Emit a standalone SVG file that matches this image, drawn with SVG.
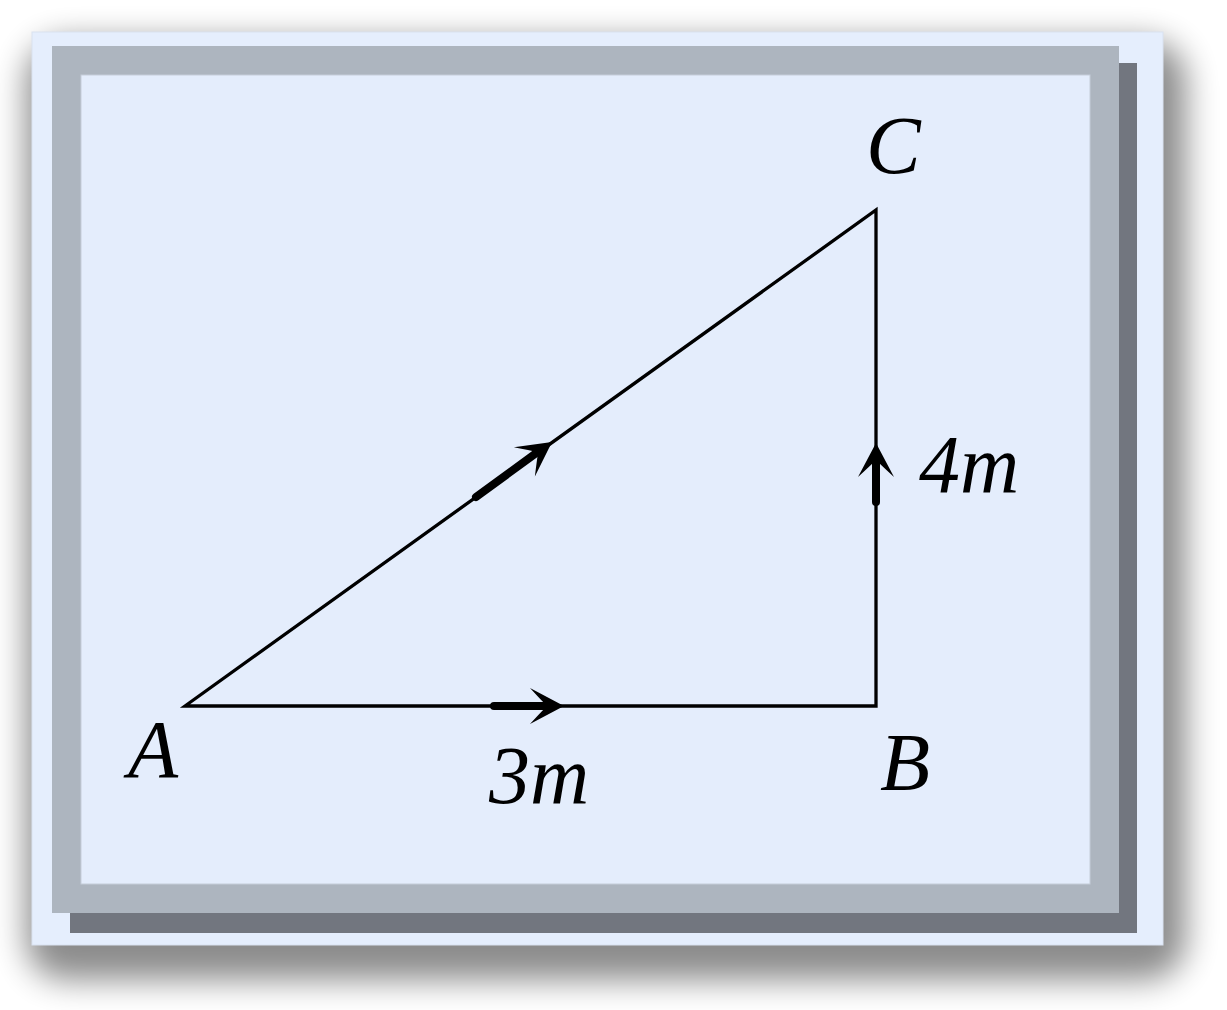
<svg xmlns="http://www.w3.org/2000/svg" xmlns:xlink="http://www.w3.org/1999/xlink" width="1227" height="1010" viewBox="0 0 1227 1010">
  <style>
    .edge { fill: none; stroke: #000; stroke-width: 3.3; stroke-linecap: round; stroke-linejoin: miter; }
    .thick { fill: none; stroke: #000; stroke-width: 8; stroke-linecap: round; }
    .lbl { font-family: "Liberation Serif", "DejaVu Serif", serif; font-style: italic; font-size: 82px; fill: #000; }
  </style>
  <defs>
    <filter id="shadow" x="-10%" y="-10%" width="120%" height="125%">
      <feGaussianBlur stdDeviation="16"/>
    </filter>
    <path id="head" d="M0,0 L-34,-18 Q-23,-6 -17,0 Q-23,6 -34,18 Z" fill="#000"/>
  </defs>
  <rect width="1227" height="1010" fill="#ffffff"/>
  <g id="frame">
    <rect x="26" y="40" width="1160" height="940" rx="40" fill="#000" opacity="0.45" filter="url(#shadow)"/>
    <rect x="32" y="32" width="1131" height="913" fill="#e5eefd" stroke="#d9e2f0" stroke-width="1"/>
    <rect x="70" y="63" width="1067" height="870" fill="#72767f"/>
    <rect x="52" y="46" width="1067" height="867" fill="#adb5bf"/>
    <rect x="81" y="75" width="1009" height="809" fill="#e4edfc" stroke="#c5cdd9" stroke-width="1"/>
  </g>
  <g id="connectors">
    <path class="edge" d="M185,706 L876,706 L876,210 Z"/>
    <line class="thick" x1="494" y1="706" x2="549" y2="706"/>
    <use xlink:href="#head" transform="translate(564,706)"/>
    <line class="thick" x1="476" y1="497" x2="539" y2="451"/>
    <use xlink:href="#head" transform="translate(552,442) rotate(-35.67)"/>
    <line class="thick" x1="876" y1="502" x2="876" y2="458"/>
    <use xlink:href="#head" transform="translate(876,443) rotate(-90)"/>
  </g>
  <g id="node-A"><text class="lbl" x="128" y="777">A</text></g>
  <g id="node-B"><text class="lbl" x="880" y="790">B</text></g>
  <g id="node-C"><text class="lbl" x="866" y="173">C</text></g>
  <g id="label-AB"><text class="lbl" x="489" y="803">3m</text></g>
  <g id="label-BC"><text class="lbl" x="919" y="492">4m</text></g>
</svg>
